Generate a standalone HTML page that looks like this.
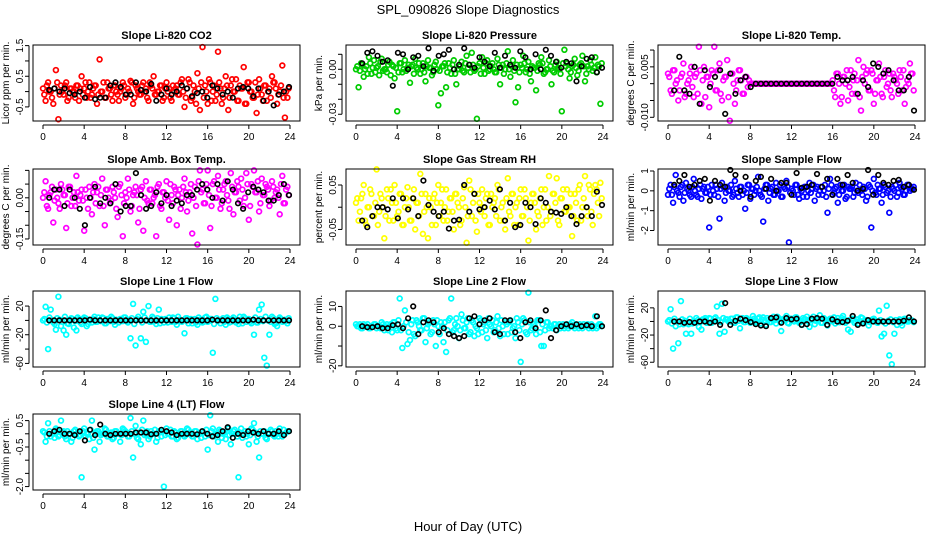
<!DOCTYPE html>
<html><head><meta charset="utf-8"><title>SPL_090826 Slope Diagnostics</title>
<style>html,body{margin:0;padding:0;background:#fff}svg{display:block;font-family:"Liberation Sans",sans-serif}</style>
</head><body>
<svg id="c" width="936" height="540" viewBox="0 0 936 540">
<text x="468" y="14" text-anchor="middle" font-size="13">SPL_090826  Slope Diagnostics</text>
<text x="468" y="531" text-anchor="middle" font-size="13">Hour of Day (UTC)</text>
</svg>
<script>
const hourTicks=[0,4,8,12,16,20,24];
const co2All=[0.1,-0.3,0.3,0.0,-0.4,0.7,-0.9,0.2,-0.1,0.3,-0.2,0.1,0.0,0.2,-0.3,0.5,0.1,-0.2,0.3,-0.1,0.2,-0.4,1.05,0.0,-0.2,0.3,0.1,-0.3,0.2,-0.1,0.0,0.3,-0.2,0.1,0.35,-0.4,0.2,0.0,-0.1,0.3,0.1,-0.3,0.2,0.5,-0.1,0.0,0.2,-0.2,0.3,0.1,-0.3,0.0,0.2,-0.1,0.4,-0.5,0.1,0.3,-0.2,0.0,0.6,-0.6,1.45,0.2,-0.4,0.3,0.0,-0.3,1.3,0.1,-0.2,0.5,-0.6,0.2,0.0,0.4,-0.3,0.1,0.8,-0.4,0.3,0.0,-0.2,-0.7,0.4,-0.1,0.2,-0.3,0.1,0.5,0.3,-0.4,0.0,0.85,-0.85,-0.2];
const co2Band=[-0.1,0.2,0.0,-0.2,0.1,0.3,-0.1,0.0,0.2,-0.3,0.1,0.0,-0.2,0.2,0.1,-0.1,0.3,0.0,-0.2,0.1,0.2,-0.1,0.0,0.3,-0.2,0.1,-0.1,0.2,0.0,-0.3,0.1,0.2,-0.1,0.0,0.3,-0.2,0.1,-0.1,0.2,0.0,-0.2,0.3,0.1,-0.1,0.0,0.2,-0.3,0.1,0.0,-0.2,0.2,0.1,-0.1,0.3,0.0,-0.2,0.4,-0.3,0.2,-0.4,0.1,0.3,-0.2,0.0,0.4,-0.3,0.2,-0.1,0.3,-0.4,0.1,0.2,-0.2,0.4,0.0,-0.3,0.2,0.1,-0.4,0.3,0.0,-0.2,0.3,-0.1,0.1,-0.3,0.2,0.0,-0.2,0.3,0.1,-0.1,0.2,-0.2,0.0,0.1];
const co2Hourly=[0.05,0.1,0.0,0.1,-0.05,-0.1,0.0,-0.2,0.15,-0.25,-0.2,-0.2,0.2,0.3,0.15,-0.1,-0.1,0.3,0.05,0.0,0.25,-0.3,-0.1,0.1,-0.1,0.0,0.2,0.1,-0.15,-0.05,0.0,-0.2,0.2,0.1,-0.1,0.0,-0.2,0.1,0.15,0.1,-0.15,0.1,-0.3,0.0,-0.45,-0.1,0.0,0.15];
const presAll=[0.0,-0.012,0.004,-0.005,0.002,0.008,-0.003,0.006,0.001,-0.004,0.007,0.0,-0.002,0.005,0.003,-0.006,-0.028,0.004,-0.002,0.006,0.001,-0.009,0.003,0.007,0.0,-0.003,0.004,-0.008,0.006,0.001,-0.002,0.005,-0.024,-0.016,0.002,-0.012,0.004,-0.003,0.006,-0.01,0.0,0.005,-0.002,0.009,0.003,0.011,-0.001,-0.033,0.004,0.008,-0.003,0.006,0.0,0.004,-0.002,0.007,-0.01,0.003,0.0,0.012,-0.005,0.006,-0.022,-0.012,0.003,0.009,-0.002,0.005,-0.008,0.001,-0.014,0.004,0.008,-0.003,0.0,0.006,-0.01,-0.002,0.005,0.0,-0.028,0.013,0.004,-0.006,0.002,0.007,-0.004,0.003,0.009,-0.008,0.002,0.006,-0.001,0.008,0.003,-0.023];
const presBand=[0.002,-0.001,0.003,0.0,-0.003,0.004,0.001,-0.002,0.002,0.005,-0.001,0.0,0.003,-0.004,0.002,0.001,-0.002,0.004,0.0,-0.001,0.003,0.002,-0.003,0.001,0.004,0.0,-0.002,0.002,0.001,-0.004,0.003,0.0,-0.001,0.002,0.004,-0.002,0.001,0.003,-0.003,0.0,0.002,-0.001,0.004,0.001,-0.002,0.003,0.0,0.002,-0.003,0.001,0.004,-0.001,0.002,0.0,-0.002,0.003,0.001,-0.003,0.004,0.0,0.002,-0.001,0.003,-0.002,0.001,0.004,0.0,-0.003,0.002,0.001,-0.001,0.003,0.004,-0.002,0.0,0.002,-0.001,0.003,0.001,-0.003,0.004,0.002,0.0,-0.002,0.003,0.001,-0.001,0.004,0.002,-0.003,0.0,0.003,0.001,-0.002,0.002,0.004];
const presHourly=[0.004,0.011,0.012,0.009,0.005,0.006,-0.011,0.011,0.01,0.0,0.008,0.009,0.002,0.014,-0.001,0.009,0.01,0.013,0.0,0.003,0.014,0.003,0.001,0.008,0.005,0.002,0.011,0.001,0.009,0.003,0.001,0.012,0.008,0.0,0.01,0.0,0.013,0.009,0.005,0.001,0.005,0.004,-0.008,0.002,0.007,0.008,-0.002,0.001];
const tempAll=[0.003,-0.002,0.004,0.0,-0.005,0.002,0.006,-0.003,0.001,0.005,-0.004,0.003,0.011,-0.006,0.005,0.002,-0.007,0.004,0.011,-0.002,0.006,-0.005,0.002,0.007,-0.011,0.003,-0.006,0.001,0.004,-0.003,0.002,-0.001,0,0,0,0,0,0,0,0,0,0,0,0,0,0,0,0,0,0,0,0,0,0,0,0,0,0,0,0,0,0,0,0,0.001,-0.004,0.003,-0.006,0.002,0.0,-0.005,0.004,0.001,-0.003,0.007,-0.008,0.005,0.003,-0.002,0.004,-0.006,0.001,0.006,-0.003,0.002,-0.001,0.003,-0.004,0.002,0.0,0.004,-0.002,-0.006,0.001,0.006,0.003];
const tempBand=[0.002,-0.003,0.004,0.001,-0.002,0.003,-0.004,0.0,0.003,-0.001,0.002,-0.003,0.004,0.001,-0.004,0.002,0.0,0.003,-0.002,0.004,-0.003,0.001,0.002,-0.004,0.003,0.0,-0.002,0.004,0.001,-0.003,0.002,0.001,0,0,0,0,0,0,0,0,0,0,0,0,0,0,0,0,0,0,0,0,0,0,0,0,0,0,0,0,0,0,0,0,-0.002,0.003,0.0,-0.004,0.002,0.004,-0.001,-0.003,0.003,0.001,-0.004,0.002,0.0,0.004,-0.002,0.003,-0.003,0.001,0.002,-0.004,0.004,0.0,-0.002,0.003,0.001,-0.003,0.002,0.004,-0.001,0.0,0.003,-0.002];
const tempHourly=[-0.002,0.008,-0.002,-0.003,0.005,-0.006,0.004,-0.001,0.002,0.004,-0.009,0.003,-0.003,0.001,0.002,-0.001,0,0,0,0,0,0,0,0,0,0,0,0,0,0,0,0,0.002,0.001,0.001,0.002,-0.003,0.001,-0.001,0.006,0.005,0.003,0.004,0.001,-0.002,-0.002,0.002,-0.008];
const boxAll=[0.0,0.06,-0.04,0.02,-0.09,0.03,-0.02,0.05,0.01,-0.11,0.04,-0.03,0.02,0.08,-0.01,0.03,-0.12,0.0,0.04,-0.06,0.05,0.02,-0.03,0.07,-0.1,0.03,-0.02,0.04,0.0,-0.07,0.05,-0.14,0.02,0.07,-0.05,0.01,0.04,-0.09,0.03,-0.12,0.06,-0.02,0.03,0.0,-0.14,0.05,-0.04,0.02,0.06,-0.08,0.01,0.04,-0.1,0.03,0.0,0.07,-0.05,0.02,-0.13,0.04,-0.17,0.1,0.03,-0.02,0.1,-0.11,0.05,0.0,0.08,-0.04,0.03,0.06,-0.01,0.09,-0.06,0.02,0.04,0.07,-0.03,0.09,-0.08,0.05,0.1,0.02,-0.05,0.07,0.01,0.04,-0.03,0.06,0.0,0.03,-0.06,0.08,-0.02,0.04];
const boxBand=[0.02,-0.03,0.01,0.04,-0.01,0.0,-0.04,0.03,0.01,-0.02,0.04,0.0,-0.03,0.02,0.01,-0.01,0.03,-0.04,0.0,0.02,-0.02,0.04,0.01,-0.03,0.03,0.0,-0.01,0.02,-0.04,0.04,0.01,-0.02,0.0,0.03,-0.03,0.02,0.01,-0.04,0.04,0.0,-0.01,0.03,-0.02,0.01,0.04,-0.03,0.02,0.0,-0.01,0.05,-0.02,0.03,0.01,-0.04,0.04,0.02,-0.01,0.05,0.0,-0.03,0.06,0.02,-0.02,0.05,0.01,-0.03,0.06,0.0,0.03,-0.02,0.05,0.01,-0.04,0.04,0.02,0.06,-0.01,0.03,0.0,0.05,-0.03,0.04,0.02,0.06,-0.02,0.01,0.05,0.03,-0.01,0.04,0.02,0.0,0.05,-0.02,0.03,0.01];
const boxHourly=[0.0,0.03,0.03,-0.03,0.03,0.0,-0.04,-0.1,0.0,0.04,-0.02,0.0,-0.02,0.05,-0.05,-0.03,-0.03,0.09,0.01,-0.04,-0.03,0.02,-0.02,0.01,-0.03,-0.01,-0.02,0.01,0.01,0.03,0.05,0.03,0.0,0.05,-0.01,0.06,0.03,-0.02,-0.04,0.02,0.04,0.03,0.02,-0.01,-0.01,0.01,0.05,0.01];
const rhAll=[0.01,-0.03,0.02,0.05,-0.04,0.0,0.03,-0.02,0.085,-0.01,0.02,-0.07,0.04,-0.03,0.01,0.05,-0.02,0.03,-0.04,0.0,0.045,-0.03,0.02,-0.05,0.01,0.075,-0.06,0.03,-0.07,0.0,0.02,-0.04,0.05,0.01,-0.03,0.04,-0.01,0.02,-0.05,0.03,0.0,-0.03,0.045,-0.08,0.06,-0.02,0.03,-0.055,0.01,0.04,-0.02,0.03,-0.04,0.0,0.02,0.05,-0.03,0.01,-0.05,0.065,-0.02,0.03,0.0,-0.04,0.04,-0.02,0.02,-0.075,0.01,0.03,-0.05,-0.02,0.04,0.0,-0.03,0.07,-0.01,0.03,0.065,-0.04,0.02,-0.01,0.04,0.0,-0.065,0.03,-0.03,0.05,0.0,0.07,-0.02,0.04,-0.04,0.05,0.01,0.055];
const rhBand=[0.02,-0.01,0.03,-0.03,0.0,0.04,-0.02,0.01,-0.04,0.03,0.0,-0.02,0.02,0.04,-0.03,0.01,-0.01,0.03,-0.04,0.02,0.0,-0.03,0.04,0.01,-0.02,0.03,-0.01,0.0,0.02,-0.04,0.03,0.01,-0.02,0.04,0.0,-0.03,0.02,-0.01,0.03,0.01,-0.04,0.02,0.0,-0.02,0.04,0.01,-0.03,0.03,-0.01,0.0,0.02,-0.04,0.03,0.01,-0.02,0.04,0.0,-0.03,0.02,-0.01,0.03,-0.04,0.01,0.02,-0.02,0.04,0.0,-0.03,0.03,0.01,-0.01,0.02,-0.04,0.04,0.0,-0.02,0.03,0.01,-0.03,0.02,0.04,-0.01,0.0,0.03,-0.02,0.01,0.04,-0.03,0.02,0.0,0.05,-0.01,0.03,0.04,-0.02,0.02];
const rhHourly=[-0.03,-0.045,-0.02,0.0,0.0,-0.005,0.02,-0.025,0.02,-0.005,0.02,-0.02,0.06,0.005,-0.01,-0.02,-0.01,-0.048,-0.03,-0.028,0.05,-0.01,0.03,-0.005,0.0,0.015,-0.005,0.04,-0.03,0.01,-0.045,-0.04,0.01,0.0,-0.038,0.02,0.01,-0.01,-0.012,-0.015,0.0,-0.02,-0.038,-0.02,0.0,-0.02,0.035,0.005];
const flowAll=[-0.2,0.3,-0.6,0.8,-0.1,0.2,-0.5,0.4,0.0,-0.3,0.6,-0.2,0.1,-0.4,0.2,-0.1,-1.85,0.3,-0.2,0.1,-1.4,0.4,-0.5,0.2,0.0,-0.3,0.5,-0.1,0.2,-0.2,-0.9,0.3,-0.4,0.1,0.0,0.7,-0.2,-1.55,0.3,-0.5,0.1,-0.2,0.4,0.0,-0.3,0.2,0.5,-2.6,0.1,-0.2,0.3,-0.4,0.0,0.2,-0.3,0.4,0.1,-0.5,0.2,0.0,-0.2,0.3,-1.1,0.6,-0.2,0.1,-0.6,0.3,0.0,-0.4,0.2,0.1,-0.3,0.4,-0.1,0.0,0.2,-0.5,0.3,-1.85,0.6,-0.2,0.1,-0.6,0.3,-0.1,-1.1,0.2,0.0,-0.3,0.4,0.1,-0.2,0.3,0.0,0.1];
const flowBand=[0.1,-0.2,0.2,0.0,-0.3,0.3,-0.1,0.1,-0.2,0.2,0.0,-0.3,0.3,0.1,-0.1,0.2,-0.2,0.0,0.3,-0.3,0.1,0.2,-0.1,0.0,0.3,-0.2,0.1,-0.3,0.2,0.0,-0.1,0.3,0.1,-0.2,0.2,0.0,-0.3,0.1,0.3,-0.1,0.2,-0.2,0.0,0.3,-0.3,0.1,0.2,-0.1,0.0,0.3,-0.2,0.1,-0.3,0.2,0.0,-0.1,0.3,0.1,-0.2,0.2,0.0,-0.3,0.1,0.3,-0.1,0.2,-0.2,0.0,0.3,-0.3,0.1,0.2,-0.1,0.0,0.3,-0.2,0.1,-0.3,0.2,0.0,-0.1,0.3,0.1,-0.2,0.2,0.0,-0.3,0.1,0.3,-0.1,0.2,-0.2,0.0,0.3,0.1,0.2];
const flowHourly=[0.3,0.5,0.8,0.2,0.3,0.5,0.6,-0.5,0.5,0.3,0.2,1.05,0.8,0.0,0.7,-0.3,0.5,0.7,0.1,0.6,0.0,0.4,0.4,-0.2,0.9,0.15,0.2,0.3,0.85,0.2,0.6,-0.2,0.6,0.3,0.8,0.4,0.0,0.1,1.05,-0.2,0.8,0.4,0.3,0.5,0.55,0.2,0.3,0.05];
const line1All=[0,19,-40,15,-3,-13,33,-8,-14,-20,-5,3,-10,-14,2,-5,4,-8,1,-3,5,-2,0,4,-4,2,-1,3,-6,0,2,-1,4,-3,-25,23,-35,5,-25,12,-30,20,-2,3,-5,15,2,-3,0,4,-2,3,-6,1,-2,-18,3,0,-4,2,-6,1,-3,4,-2,2,-45,30,0,-4,3,-6,2,-2,4,-3,-5,1,5,-2,2,-4,-20,-3,15,22,-52,-63,-20,5,-5,-8,4,-2,1,-4];
const line1Band=[2,-3,4,0,-5,3,1,-2,5,-4,0,2,-1,4,-3,1,3,-5,0,2,-2,4,-1,3,-4,0,5,-2,1,-3,2,4,-1,0,3,-5,2,1,-3,4,0,-2,5,-1,3,-4,1,2,-3,0,4,-2,5,-1,0,3,-4,2,1,-3,4,0,-2,5,-1,2,-5,3,0,1,-2,4,-3,2,0,-1,5,-4,3,1,-2,0,4,-3,2,-1,5,0,-2,3,-4,1,2,0,-1,3];
const line1Hourly=[0,0,0,0,0,0,0,0,1,0,0,0,0,0,0,0,0,0,0,0,0,0,0,0,0,0,0,0,0,0,0,0,1,0,0,0,0,0,0,0,1,0,0,0,0,0,0,0];
const line2All=[1,0,-1,1,0,-1,0,1,-1,0,2,-2,1,0,-3,2,-2,14,-11,8,-9,-7,3,-5,2,-2,4,-8,1,-4,3,-10,0,2,-8,-13,3,14,-2,4,-6,6,-1,2,-4,3,-5,-1,4,-3,2,-6,1,3,-2,5,-5,0,2,-4,3,-1,-6,2,-18,4,-3,17,-2,1,-4,3,-10,-10,2,-1,0,1,-2,1,0,-1,1,0,2,-1,0,1,-1,0,1,0,-1,5,0,1];
const line2Band=[0,1,-1,0,1,-1,0,1,0,-1,1,0,-2,1,2,-1,3,-2,0,2,-3,1,-4,3,0,-2,4,-1,2,-3,1,3,-4,0,2,-2,4,-3,1,0,-2,3,-1,4,-3,2,0,-4,3,1,-2,4,0,-3,2,-1,3,-4,1,2,-3,0,4,-2,1,3,-4,2,-1,0,3,-3,1,-2,2,0,-1,1,0,-1,1,0,-1,1,0,1,-1,0,1,0,-1,1,0,-1,1,0];
const line2Hourly=[0,-0.5,-0.5,0,-1,-1,0.5,1,-1,4,10,-4,2,3,2,-3,-1,-4,-5,-6,-5,4,5,1,3,4,-3,-4,3,3,-3,-6,2,3,-1,3,8,-6,-2,0,1,0,1,0,0.5,0,5,0];
const line3All=[0,18,-40,-7,-32,30,-4,-18,-4,-18,0,5,-8,-12,3,-2,5,-2,4,22,-18,26,-15,3,0,4,-2,6,-10,5,-1,3,-2,8,0,4,-3,6,-5,2,-1,7,-3,5,-14,2,8,-3,4,0,6,-2,-5,3,7,-8,2,-4,5,9,-2,3,-6,4,0,-3,5,-1,8,-2,-12,-15,4,0,-3,6,-2,2,-6,1,4,-1,16,-22,-18,23,-50,-63,-18,-5,3,-6,4,0,2,1];
const line3Band=[2,-3,4,0,-4,3,1,-2,4,-3,0,2,-1,3,5,-2,4,0,6,2,-1,5,3,0,4,-2,6,1,3,-1,5,2,0,4,-2,6,3,1,5,-1,4,2,7,0,3,5,-2,4,1,6,2,-1,5,3,0,4,7,1,3,-2,5,2,0,4,6,1,-1,5,3,0,2,4,-2,3,1,5,0,2,-1,3,1,-2,2,0,-3,1,3,-1,2,0,-2,3,1,0,2,-1];
const line3Hourly=[0,0,-2,-1,-2,0,0,-2,0,-5,27,-5,1,4,2,-1,-4,-6,-7,5,6,-2,5,3,4,-5,-4,4,5,4,-5,3,0,-1,1,8,-5,-3,2,0,0,0,0,0,0,1,6,0];
const line4All=[0.1,-0.3,0.4,-0.1,0.0,0.2,-0.1,0.5,0.1,-0.2,0.0,-0.3,0.1,0.0,-0.1,-1.65,0.2,0.0,-0.2,0.5,-0.6,0.1,-0.3,0.0,0.2,-0.1,0.0,-0.2,0.1,0.0,-0.3,0.2,0.1,-0.1,0.6,-0.9,0.3,-0.2,-0.4,0.5,0.0,-0.2,0.1,0.0,-0.3,0.1,-0.1,-2.0,0.2,0.0,-0.1,0.1,-0.2,0.0,0.1,-0.1,0.2,0.0,-0.1,0.1,-0.2,0.0,0.1,-0.1,-0.6,0.7,0.2,0.0,-0.3,0.1,0.0,-0.2,0.2,-0.4,0.1,0.0,-1.65,0.2,0.0,-0.1,-0.4,0.2,0.4,-0.3,-0.9,0.0,0.1,-0.2,0.0,0.1,-0.1,0.0,0.2,-0.1,0.0,0.1];
const line4Band=[0.05,-0.1,0.1,0.0,-0.15,0.15,-0.05,0.05,-0.1,0.1,0.0,-0.15,0.15,0.05,-0.05,0.1,-0.1,0.0,0.15,-0.15,0.05,0.1,-0.05,0.0,0.15,-0.1,0.05,-0.15,0.1,0.0,-0.05,0.15,0.05,-0.1,0.1,0.0,-0.15,0.05,0.15,-0.05,0.1,-0.1,0.0,0.15,-0.15,0.05,0.1,-0.05,0.0,0.15,-0.1,0.05,-0.15,0.1,0.0,-0.05,0.15,0.05,-0.1,0.1,0.0,-0.15,0.05,0.15,-0.05,0.1,-0.1,0.0,0.15,-0.15,0.05,0.1,-0.05,0.0,0.15,-0.1,0.05,-0.15,0.1,0.0,-0.05,0.15,0.05,-0.1,0.1,0.0,-0.15,0.05,0.15,-0.05,0.1,-0.1,0.0,0.15,0.05,0.1];
const line4Hourly=[0.0,0.1,0.15,0.0,0.0,-0.05,0.1,-0.25,0.15,-0.05,0.35,0.0,-0.05,0.0,0.0,0.0,0.0,0.05,0.05,0.05,-0.02,0.0,0.15,0.1,0.05,-0.05,0.0,0.0,0.0,-0.02,0.1,0.0,-0.1,-0.05,0.1,0.25,-0.15,0.0,-0.05,0.1,0.05,0.0,0.1,0.0,0.0,0.1,-0.05,0.1];

const panels=[
 {id:'co2',col:0,row:0,title:'Slope Li-820 CO2',yl:'Licor ppm per min.',y0:-0.96,y1:1.52,ticks:[-0.5,0,0.5,1,1.5],labs:{'-0.5':'-0.5','0.5':'0.5','1.5':'1.5'},color:'#ff0000',all:co2All,band:co2Band,hr:co2Hourly},
 {id:'pressure',col:1,row:0,title:'Slope Li-820 Pressure',yl:'kPa per min.',y0:-0.0345,y1:0.0162,ticks:[-0.03,-0.02,-0.01,0,0.01],labs:{'0':'0.00','-0.03':'-0.03'},color:'#00cc00',all:presAll,band:presBand,hr:presHourly},
 {id:'temp',col:2,row:0,title:'Slope Li-820 Temp.',yl:'degrees C per min.',y0:-0.0111,y1:0.0115,ticks:[-0.01,-0.005,0,0.005,0.01],labs:{'-0.01':'-0.010','0.005':'0.005'},color:'#ff00ff',all:tempAll,band:tempBand,hr:tempHourly},
 {id:'box-temp',col:0,row:1,title:'Slope Amb. Box Temp.',yl:'degrees C per min.',y0:-0.172,y1:0.105,ticks:[-0.15,-0.1,-0.05,0,0.05,0.1],labs:{'0':'0.00','-0.15':'-0.15'},color:'#ff00ff',all:boxAll,band:boxBand,hr:boxHourly},
 {id:'rh',col:1,row:1,title:'Slope Gas Stream RH',yl:'percent per min.',y0:-0.085,y1:0.086,ticks:[-0.05,0,0.05],labs:{'0.05':'0.05','-0.05':'-0.05'},color:'#ffff00',all:rhAll,band:rhBand,hr:rhHourly},
 {id:'sample-flow',col:2,row:1,title:'Slope Sample Flow',yl:'ml/min per min.',y0:-2.73,y1:1.1,ticks:[-2,-1,0,1],labs:{'-2':'-2','-1':'-1','0':'0','1':'1'},color:'#0000ff',all:flowAll,band:flowBand,hr:flowHourly},
 {id:'line1',col:0,row:2,title:'Slope Line 1 Flow',yl:'ml/min per min.',y0:-65,y1:41,ticks:[-60,-40,-20,0,20],labs:{'-60':'-60','-20':'-20','20':'20'},color:'#00ffff',all:line1All,band:line1Band,hr:line1Hourly},
 {id:'line2',col:1,row:2,title:'Slope Line 2 Flow',yl:'ml/min per min.',y0:-20.6,y1:17.8,ticks:[-20,-10,0,10],labs:{'-20':'-20','0':'0','10':'10'},color:'#00ffff',all:line2All,band:line2Band,hr:line2Hourly},
 {id:'line3',col:2,row:2,title:'Slope Line 3 Flow',yl:'ml/min per min.',y0:-67,y1:44.8,ticks:[-60,-40,-20,0,20],labs:{'-60':'-60','-20':'-20','20':'20'},color:'#00ffff',all:line3All,band:line3Band,hr:line3Hourly},
 {id:'line4',col:0,row:3,title:'Slope Line 4 (LT) Flow',yl:'ml/min per min.',y0:-2.13,y1:0.75,ticks:[-2,-1.5,-1,-0.5,0,0.5],labs:{'-2':'-2.0','-0.5':'-0.5','0.5':'0.5'},color:'#00ffff',all:line4All,band:line4Band,hr:line4Hourly}
];
const colX=[33,346,658], rowY=[45,169,291,414], W=267, H=76;
const NS='http://www.w3.org/2000/svg';
const svg=document.getElementById('c');
function mk(tag,attrs,parent){const e=document.createElementNS(NS,tag);for(const k in attrs)e.setAttribute(k,attrs[k]);(parent||svg).appendChild(e);return e;}
panels.forEach(p=>{
  const L=colX[p.col],T=rowY[p.row];
  const g=mk('g',{});
  
  
  const xs=h=>L+10+h*(247/24);
  const ys=v=>T+H-(v-p.y0)/(p.y1-p.y0)*H;
  const tt=mk('text',{x:L+W/2,y:T-6,'text-anchor':'middle','font-size':11,'font-weight':'bold'},g);
  tt.textContent=p.title;
  
  
  const cx=L-24,cy=T+H/2;
  const yl=mk('text',{x:cx,y:cy,'text-anchor':'middle','font-size':10,transform:`rotate(-90 ${cx} ${cy})`},g);
  yl.textContent=p.yl;
  
  
  const pts=mk('g',{fill:'none',stroke:p.color,'stroke-width':1.7},g);
  
  
  p.band.forEach((v,i)=>{
    const h=(i+0.5)*24/p.band.length;
    const c=mk('circle',{cx:xs(h).toFixed(1),cy:ys(v).toFixed(1),r:2.4},pts);
    
    
  });
  p.all.forEach((v,i)=>{
    const h=i*24/p.all.length;
    const c=mk('circle',{cx:xs(h).toFixed(1),cy:ys(v).toFixed(1),r:2.4},pts);
    
    
  });
  const hp=mk('g',{fill:'none',stroke:'#000','stroke-width':1.6},g);
  
  
  p.hr.forEach((v,j)=>{
    const h=0.6+j*23.3/(p.hr.length-1);
    const c=mk('circle',{cx:xs(h).toFixed(1),cy:ys(v).toFixed(1),r:2.3},hp);
    
    
  });
  const fr=mk('rect',{x:L,y:T,width:W,height:H,fill:'none',stroke:'#000','stroke-width':1},g);
  
  
  const ax=mk('g',{stroke:'#000','stroke-width':1},g);
  
  
  mk('line',{x1:xs(0),x2:xs(24),y1:T+H+4,y2:T+H+4},ax);
  hourTicks.forEach(h=>{
    mk('line',{x1:xs(h),x2:xs(h),y1:T+H+4,y2:T+H+8},ax);
    const t=mk('text',{x:xs(h),y:T+H+19,'text-anchor':'middle','font-size':10,stroke:'none'},ax);
    t.textContent=h;
    
    
  });
  const ay=mk('g',{stroke:'#000','stroke-width':1},g);
  
  
  const tp=p.ticks.map(ys);
  mk('line',{x1:L-4,x2:L-4,y1:Math.min(...tp),y2:Math.max(...tp)},ay);
  p.ticks.forEach(v=>{
    const y=ys(v);
    mk('line',{x1:L-4,x2:L-8,y1:y,y2:y},ay);
    const lab=p.labs[String(v)];
    if(lab!==undefined){
      const t=mk('text',{x:L-10,y:y,'text-anchor':'middle','font-size':10,stroke:'none',transform:`rotate(-90 ${L-10} ${y})`},ay);
      t.textContent=lab;
      
      
    }
  });
});
</script>
</body></html>
